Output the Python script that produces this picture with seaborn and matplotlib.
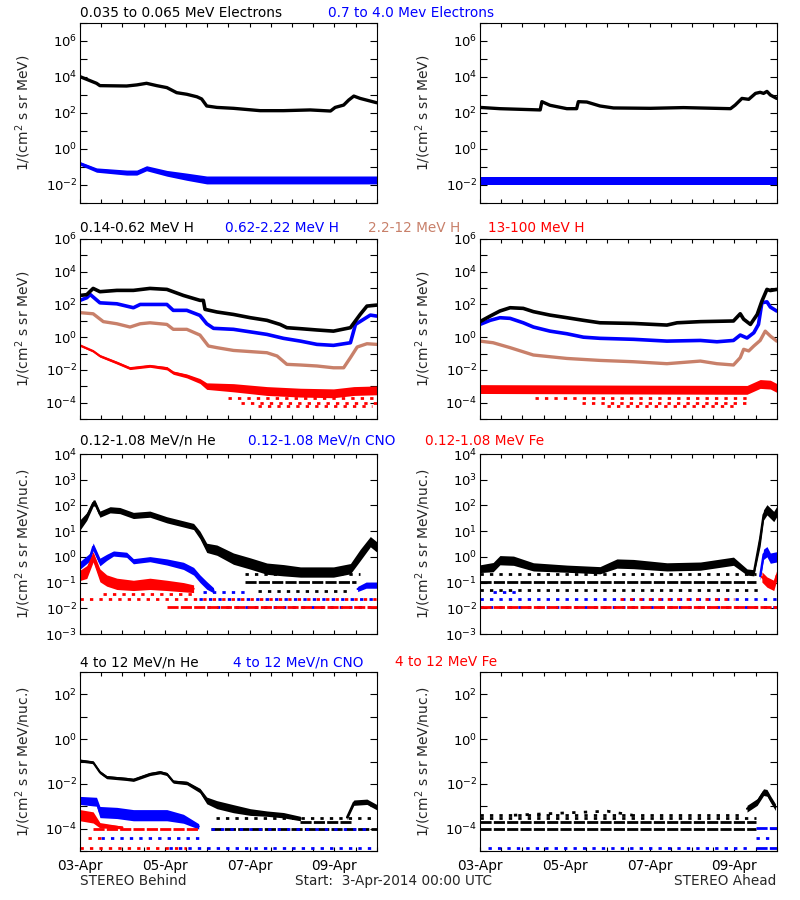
import numpy as np
import matplotlib
matplotlib.use("Agg")
import matplotlib.pyplot as plt
import seaborn as sns
from matplotlib.ticker import FixedLocator, LogFormatterSciNotation, NullFormatter

# ---------------------------------------------------------------- data
# time in days since 03-Apr-2014 00:00 UTC ; values are log10(flux)
XTICK_DAYS = [0, 2, 4, 6]
XTICK_LABELS = ["03-Apr", "05-Apr", "07-Apr", "09-Apr"]

# Row 1 : electrons
E_LO_B_T = [0, .39, .47, 1.10, 1.34, 1.57, 1.81, 2.05, 2.28, 2.52, 2.76, 2.87, 2.99, 3.23, 3.62,
            4.25, 4.80, 5.43, 5.91, 6.02, 6.22, 6.34, 6.46, 6.61, 7.0]
E_LO_B_L = [4.02, 3.65, 3.52, 3.50, 3.56, 3.65, 3.52, 3.41, 3.13, 3.04, 2.90, 2.78, 2.39, 2.31, 2.26,
            2.13, 2.13, 2.17, 2.11, 2.31, 2.44, 2.72, 2.94, 2.81, 2.57]
E_HI_B_T = [0, .39, 1.10, 1.34, 1.57, 2.05, 2.52, 2.99, 3.62, 7.0]
E_HI_B_L = [-0.80, -1.17, -1.31, -1.31, -1.07, -1.35, -1.54, -1.72, -1.72, -1.72]
E_HI_B_S = [0.10, 0.12, 0.14, 0.14, 0.14, 0.16, 0.2, 0.22, 0.22, 0.22]

E_LO_A_T = [0, .47, 1.42, 1.46, 1.65, 2.05, 2.28, 2.32, 2.52, 2.83, 3.15, 4.02, 4.80, 5.91, 6.02,
            6.18, 6.34, 6.50, 6.61, 6.69, 6.77, 6.85, 7.0]
E_LO_A_L = [2.31, 2.24, 2.17, 2.63, 2.43, 2.24, 2.24, 2.63, 2.61, 2.39, 2.28, 2.26, 2.30, 2.24, 2.44,
            2.81, 2.76, 3.09, 3.15, 3.09, 3.20, 3.00, 2.81]
E_HI_A_T = [0, 7.0]
E_HI_A_L = [-1.78, -1.78]
E_HI_A_S = [0.22, 0.22]

# Row 2 : protons (Behind)
H1_B_T = [0, .16, .31, .47, .87, 1.26, 1.65, 2.05, 2.44, 2.83, 2.91, 2.95, 3.23, 3.62, 4.02, 4.41,
          4.72, 4.88, 5.20, 5.59, 5.98, 6.38, 6.61, 6.77, 7.0]
H1_B_L = [2.55, 2.60, 2.98, 2.78, 2.86, 2.86, 2.98, 2.92, 2.55, 2.25, 2.25, 1.70, 1.54, 1.39, 1.19, 1.03,
          0.78, 0.58, 0.52, 0.44, 0.37, 0.58, 1.39, 1.90, 1.96]
H2_B_T = [0, .16, .24, .47, .87, 1.26, 1.42, 2.05, 2.20, 2.52, 2.83, 2.99, 3.15, 3.62, 4.41, 4.80,
          5.20, 5.59, 5.98, 6.38, 6.50, 6.69, 6.85, 7.0]
H2_B_L = [2.25, 2.41, 2.61, 2.10, 2.04, 1.80, 2.00, 2.00, 1.64, 1.64, 1.33, 0.82, 0.54, 0.48, 0.17, -0.07,
          -0.24, -0.44, -0.50, -0.34, 0.78, 1.09, 1.35, 1.29]
H3_B_T = [0, .31, .55, .87, 1.18, 1.42, 1.65, 2.05, 2.20, 2.52, 2.83, 3.03, 3.23, 3.62, 4.41, 4.65,
          4.88, 5.20, 5.59, 5.98, 6.22, 6.38, 6.54, 6.77, 7.0]
H3_B_L = [1.50, 1.43, 0.95, 0.82, 0.62, 0.82, 0.88, 0.78, 0.48, 0.48, 0.13, -0.54, -0.64, -0.81, -0.95,
          -1.15, -1.66, -1.70, -1.76, -1.87, -1.87, -1.25, -0.60, -0.40, -0.44]
H4_B_T = [0, .31, .47, .87, 1.18, 1.65, 2.05, 2.20, 2.52, 2.83, 2.99, 3.62, 4.41, 5.20, 5.98, 6.46, 7.0]
H4_B_L = [-0.50, -0.85, -1.15, -1.56, -1.90, -1.76, -1.90, -2.17, -2.37, -2.68, -2.99, -3.09, -3.29,
          -3.39, -3.43, -3.29, -3.25]
H4_B_S = [.06, .06, .07, .08, .08, .08, .10, .10, .12, .15, .20, .25, .27, .27, .27, .27, .27]

# Row 2 : protons (Ahead)
H1_A_T = [0, .24, .47, .71, 1.02, 1.26, 1.65, 2.05, 2.44, 2.83, 3.62, 4.41, 4.65, 5.20, 5.98, 6.14,
          6.22, 6.38, 6.54, 6.65, 6.77, 6.85, 7.0]
H1_A_L = [0.95, 1.29, 1.60, 1.80, 1.76, 1.56, 1.35, 1.19, 1.03, 0.88, 0.84, 0.74, 0.88, 0.95, 0.99, 1.43,
          1.10, 0.78, 1.39, 2.20, 2.92, 2.85, 2.92]
H2_A_T = [0, .24, .47, .71, 1.02, 1.26, 1.65, 2.05, 2.44, 2.83, 3.62, 4.41, 5.20, 5.59, 5.98, 6.14,
          6.30, 6.46, 6.57, 6.65, 6.77, 6.85, 7.0]
H2_A_L = [0.78, 1.03, 1.19, 1.15, 0.88, 0.62, 0.37, 0.21, 0.00, -0.07, -0.13, -0.24, -0.20, -0.28, -0.20,
          0.13, -0.05, 0.27, 0.78, 2.10, 2.16, 1.84, 1.60]
H3_A_T = [0, .31, .71, 1.26, 2.05, 2.83, 3.62, 4.41, 5.20, 5.59, 5.98, 6.14, 6.22, 6.34, 6.46, 6.61,
          6.73, 6.85, 7.0]
H3_A_L = [-0.24, -0.34, -0.64, -1.09, -1.30, -1.42, -1.50, -1.62, -1.46, -1.62, -1.70, -1.25, -0.74,
          -0.84, -0.54, -0.20, 0.37, 0.07, -0.24]
H4_A_T = [0, 3.5, 6.30, 6.61, 6.85, 7.0]
H4_A_L = [-3.17, -3.20, -3.22, -2.86, -2.90, -3.10]
H4_A_S = [.27, .27, .27, .27, .27, .27]

# Row 3 : 0.12-1.08 MeV/n heavy ions
HE_B_T = [0, .16, .31, .35, .47, .71, .94, 1.26, 1.65, 2.05, 2.44, 2.68, 2.83, 2.99, 3.23, 3.62, 4.02,
          4.41, 4.80, 5.20, 5.98, 6.38, 6.61, 6.85, 7.0]
HE_B_L = [1.24, 1.57, 2.09, 2.10, 1.66, 1.83, 1.80, 1.61, 1.66, 1.44, 1.28, 1.18, 0.85, 0.35, 0.26, -0.07,
          -0.26, -0.46, -0.52, -0.59, -0.59, -0.46, 0.07, 0.59, 0.39]
HE_B_S = [.2, .15, .12, .12, .12, .12, .12, .12, .12, .12, .12, .12, .15, .18, .2, .22, .22, .22, .22,
          .2, .2, .2, .22, .2, .2]
CNO_B_T = [0, .24, .31, .47, .63, .79, 1.10, 1.26, 1.65, 2.05, 2.44, 2.68, 2.83, 2.99, 3.15]
CNO_B_L = [-0.33, 0.00, 0.39, -0.20, -0.02, 0.13, 0.08, -0.17, -0.09, -0.20, -0.35, -0.56, -0.85, -1.11, -1.30]
CNO_B_S = [.15, .15, .15, .15, .12, .1, .1, .1, .1, .12, .14, .15, .15, .15, .1]
CNO_B_END_T = [6.55, 6.75, 7.0]
CNO_B_END_L = [-1.25, -1.10, -1.10]
FE_B_T = [0, .16, .31, .47, .63, .87, 1.26, 1.65, 2.05, 2.44, 2.68]
FE_B_L = [-0.72, -0.59, 0.00, -0.72, -0.92, -1.05, -1.11, -1.05, -1.11, -1.18, -1.24]
FE_B_S = [.2, .25, .2, .25, .22, .22, .2, .22, .2, .18, .15]

HE_A_T = [0, .31, .47, .79, 1.26, 2.05, 2.83, 3.23, 3.62, 4.41, 5.20, 5.98, 6.30, 6.46, 6.61, 6.69, 6.77,
          6.93, 7.0]
HE_A_L = [-0.46, -0.40, -0.13, -0.15, -0.39, -0.46, -0.52, -0.26, -0.28, -0.39, -0.36, -0.17, -0.59,
          -0.62, 0.72, 1.63, 1.83, 1.57, 1.76]
HE_A_S = [.15, .18, .18, .18, .16, .14, .14, .18, .18, .16, .16, .16, .12, .12, .3, .2, .2, .2, .2]
CNO_A_T = [6.61, 6.69, 6.77, 6.85, 7.0]
CNO_A_L = [-0.75, 0.10, 0.20, -0.05, 0.00]
FE_A_T = [6.65, 6.77, 6.93, 7.0]
FE_A_L = [-0.78, -0.98, -1.11, -0.72]

# Row 4 : 4-12 MeV/n heavy ions
HE4_B_T = [0, .31, .47, .63, 1.10, 1.26, 1.65, 1.89, 2.05, 2.20, 2.52, 2.83, 2.99, 3.23, 3.62, 4.02,
           4.41, 4.80, 5.20]
HE4_B_L = [-0.96, -1.04, -1.48, -1.70, -1.78, -1.82, -1.56, -1.48, -1.56, -1.90, -1.96, -2.30, -2.74,
           -2.93, -3.11, -3.26, -3.33, -3.40, -3.55]
HE4_B_S = [.06, .06, .07, .07, .07, .07, .07, .07, .07, .07, .08, .1, .15, .18, .18, .15, .12, .12, .1]
HE4_B_END_T = [6.30, 6.46, 6.77, 7.0]
HE4_B_END_L = [-3.50, -2.84, -2.80, -3.04]
CNO4_B_T = [0, .39, .47, .87, 1.26, 2.05, 2.44, 2.8]
CNO4_B_L = [-2.74, -2.80, -3.26, -3.30, -3.40, -3.40, -3.56, -3.90]
CNO4_B_S = [.18, .2, .25, .25, .25, .25, .2, .12]
FE4_B_T = [0, .31, .47, 1.0]
FE4_B_L = [-3.40, -3.50, -3.85, -3.95]
FE4_B_S = [.25, .25, .12, .06]

HE4_A_T = [0.8, 2.0, 3.0, 3.6]
HE4_A_L = [-3.40, -3.30, -3.22, -3.40]
HE4_A_END_T = [6.30, 6.54, 6.69, 6.77, 6.85, 6.97]
HE4_A_END_L = [-3.11, -2.81, -2.37, -2.40, -2.67, -3.04]

# quantised count floors: (value, start day, end day, dense?)
FLOORS = {
    "H_B_red": [(2.0e-4, 3.5, 7.0, 0), (1.0e-4, 3.8, 7.0, 0), (6.3e-5, 4.2, 6.9, 0)],
    "H_A_red": [(2.0e-4, 1.3, 6.4, 0), (1.0e-4, 2.4, 6.3, 0), (6.3e-5, 3.0, 6.1, 0)],
    "M_B_black": [(0.22, 3.9, 6.6, 0), (0.11, 3.9, 6.5, 1), (0.049, 4.2, 6.4, 0)],
    "M_B_blue": [(0.043, 2.9, 3.9, 0), (0.023, 2.8, 7.0, 0), (0.011, 3.0, 7.0, 0)],
    "M_B_red": [(0.035, 0.55, 2.7, 0), (0.023, 0.0, 7.0, 0), (0.011, 2.05, 7.0, 1)],
    "M_A_black": [(0.21, 0.0, 6.5, 0), (0.11, 0.0, 6.5, 1), (0.052, 0.0, 6.6, 0)],
    "M_A_blue": [(0.043, 0.3, 0.9, 0), (0.023, 0.0, 7.0, 0), (0.011, 0.0, 7.0, 0)],
    "M_A_red": [(0.023, 3.3, 6.0, 0), (0.011, 0.0, 7.0, 1)],
    "L_B_black": [(1.0e-4, 3.1, 7.0, 1), (2.0e-4, 5.2, 6.4, 1), (3.0e-4, 3.2, 7.0, 0)],
    "L_B_blue": [(1.0e-4, 3.1, 6.8, 0), (1.3e-5, 2.1, 7.0, 0), (4.0e-5, 0.5, 2.8, 0)],
    "L_B_red": [(1.0e-4, 0.3, 2.8, 1), (1.3e-5, 0.0, 2.5, 0), (4.0e-5, 0.2, 0.5, 0)],
    "L_A_black": [(1.0e-4, 0.0, 6.5, 1), (2.0e-4, 0.0, 6.5, 1), (3.0e-4, 0.0, 6.5, 0), (4.0e-4, 0.0, 6.2, 0)],
    "L_A_blue": [(1.3e-5, 0.2, 6.4, 0), (1.3e-5, 6.5, 7.0, 1), (4.0e-5, 6.5, 6.9, 0), (1.1e-4, 6.5, 7.0, 1)],
}

TITLES = [
    [("0.035 to 0.065 MeV Electrons", 80, "k"), ("0.7 to 4.0 Mev Electrons", 328, "b")],
    [("0.14-0.62 MeV H", 80, "k"), ("0.62-2.22 MeV H", 225, "b"), ("2.2-12 MeV H", 368, "s"),
     ("13-100 MeV H", 488, "r")],
    [("0.12-1.08 MeV/n He", 80, "k"), ("0.12-1.08 MeV/n CNO", 248, "b"), ("0.12-1.08 MeV Fe", 425, "r")],
    [("4 to 12 MeV/n He", 80, "k"), ("4 to 12 MeV/n CNO", 233, "b"), ("4 to 12 MeV Fe", 395, "r")],
]
YLABELS = ["1/(cm$^2$ s sr MeV)", "1/(cm$^2$ s sr MeV)",
           "1/(cm$^2$ s sr MeV/nuc.)", "1/(cm$^2$ s sr MeV/nuc.)"]

# ---------------------------------------------------------------- style
COL = {"k": "#000000", "b": "#0000FF", "s": "#C8806A", "r": "#FF0000"}
sns.set_style("ticks")
plt.rcParams["font.family"] = ["DejaVu Sans"]
plt.rcParams["mathtext.default"] = "regular"
FS = 9.8

W, H = 800, 900
fig = plt.figure(figsize=(W / 100, H / 100), dpi=100)
fig.patch.set_facecolor("white")

ROWS = [(23, 203), (239, 419), (454, 634), (672, 851)]
COLS = [(80, 376.7), (480, 776.7)]
YLIMS = [(1e-3, 1e7), (1e-5, 1e6), (1e-3, 1e4), (1e-5, 1e3)]
YMAJ = [[1e-2, 1e0, 1e2, 1e4, 1e6], [1e-4, 1e-2, 1e0, 1e2, 1e4, 1e6],
        [1e-3, 1e-2, 1e-1, 1e0, 1e1, 1e2, 1e3, 1e4], [1e-4, 1e-2, 1e0, 1e2]]
YMIN = [[1e-3, 1e-1, 1e1, 1e3, 1e5, 1e7], [1e-5, 1e-3, 1e-1, 1e1, 1e3, 1e5], [],
        [1e-5, 1e-3, 1e-1, 1e1, 1e3]]

axes = {}
for r, (top, bot) in enumerate(ROWS):
    for c, (lft, rgt) in enumerate(COLS):
        ax = fig.add_axes([lft / W, 1 - bot / H, (rgt - lft) / W, (bot - top) / H])
        ax.set_yscale("log")
        ax.set_xlim(0, 7)
        ax.set_ylim(*YLIMS[r])
        ax.yaxis.set_major_locator(FixedLocator(YMAJ[r]))
        ax.yaxis.set_major_formatter(LogFormatterSciNotation())
        ax.yaxis.set_minor_locator(FixedLocator(YMIN[r]))
        ax.yaxis.set_minor_formatter(NullFormatter())
        ax.xaxis.set_major_locator(FixedLocator(XTICK_DAYS))
        ax.xaxis.set_minor_locator(FixedLocator(list(np.arange(0, 7.01, 0.5))))
        if r == 3:
            ax.set_xticklabels(XTICK_LABELS)
        else:
            ax.set_xticklabels([])
        ax.tick_params(axis="both", which="both", direction="in", top=True, right=True,
                       width=0.8, color="black", labelsize=9.5, labelcolor="black")
        ax.tick_params(axis="x", labelsize=FS)
        ax.tick_params(axis="y", which="both", length=5, pad=2)
        ax.tick_params(axis="x", which="both", length=3, pad=6)
        for sp in ax.spines.values():
            sp.set_linewidth(0.8)
            sp.set_color("black")
        ax.set_ylabel(YLABELS[r], fontsize=10)
        ax.yaxis.set_label_coords(-0.158, 0.5)
        ax.set_facecolor("white")
        axes[(r, c)] = ax


def line(ax, t, l, col, lw=2.2):
    sns.lineplot(x=np.asarray(t, float), y=10.0 ** np.asarray(l, float), ax=ax, color=COL[col],
                 linewidth=lw, estimator=None, sort=False, legend=False)


def band(ax, t, l, s, col, lw=1.6):
    t = np.asarray(t, float)
    l = np.asarray(l, float)
    s = np.asarray(s, float)
    ax.fill_between(t, 10 ** (l - s), 10 ** (l + s), color=COL[col], lw=0)
    line(ax, t, l, col, lw)


def floors(ax, key, col):
    for val, t0, t1, dense in FLOORS[key]:
        ls = (0, (4, 0.8)) if dense else (0, (1.2, 2.2))
        ax.hlines(val, t0, t1, colors=COL[col], linestyles=[ls], lw=2.0)


# Row 1
a = axes[(0, 0)]
line(a, E_LO_B_T, E_LO_B_L, "k", 2.4)
band(a, E_HI_B_T, E_HI_B_L, E_HI_B_S, "b")
a = axes[(0, 1)]
line(a, E_LO_A_T, E_LO_A_L, "k", 2.4)
band(a, E_HI_A_T, E_HI_A_L, E_HI_A_S, "b")

# Row 2
a = axes[(1, 0)]
floors(a, "H_B_red", "r")
band(a, H4_B_T, H4_B_L, H4_B_S, "r")
line(a, H3_B_T, H3_B_L, "s", 2.4)
line(a, H2_B_T, H2_B_L, "b", 2.6)
line(a, H1_B_T, H1_B_L, "k", 2.6)
a = axes[(1, 1)]
floors(a, "H_A_red", "r")
band(a, H4_A_T, H4_A_L, H4_A_S, "r")
line(a, H3_A_T, H3_A_L, "s", 2.4)
line(a, H2_A_T, H2_A_L, "b", 2.6)
line(a, H1_A_T, H1_A_L, "k", 2.6)

# Row 3
a = axes[(2, 0)]
floors(a, "M_B_black", "k")
floors(a, "M_B_blue", "b")
floors(a, "M_B_red", "r")
band(a, HE_B_T, HE_B_L, HE_B_S, "k")
band(a, CNO_B_T, CNO_B_L, CNO_B_S, "b")
band(a, CNO_B_END_T, CNO_B_END_L, [0.1, 0.12, 0.12], "b")
band(a, FE_B_T, FE_B_L, FE_B_S, "r")
a = axes[(2, 1)]
floors(a, "M_A_black", "k")
floors(a, "M_A_blue", "b")
floors(a, "M_A_red", "r")
band(a, HE_A_T, HE_A_L, HE_A_S, "k")
band(a, CNO_A_T, CNO_A_L, [0.15, 0.2, 0.2, 0.2, 0.2], "b")
band(a, FE_A_T, FE_A_L, [0.2, 0.2, 0.2, 0.2], "r")

# Row 4
a = axes[(3, 0)]
floors(a, "L_B_black", "k")
floors(a, "L_B_blue", "b")
floors(a, "L_B_red", "r")
band(a, HE4_B_T, HE4_B_L, HE4_B_S, "k")
band(a, HE4_B_END_T, HE4_B_END_L, [0.1, 0.12, 0.12, 0.12], "k")
band(a, CNO4_B_T, CNO4_B_L, CNO4_B_S, "b")
band(a, FE4_B_T, FE4_B_L, FE4_B_S, "r")
a = axes[(3, 1)]
floors(a, "L_A_black", "k")
floors(a, "L_A_blue", "b")
sns.lineplot(x=np.asarray(HE4_A_T), y=10.0 ** np.asarray(HE4_A_L), ax=a, color="black",
             linewidth=2.0, linestyle=(0, (1.2, 3)), estimator=None, sort=False, legend=False)
band(a, HE4_A_END_T, HE4_A_END_L, [0.15, 0.15, 0.15, 0.15, 0.15, 0.15], "k")

# titles
ROW_TITLE_Y = [13, 228, 441, 662]
for r, items in enumerate(TITLES):
    for txt, x, col in items:
        fig.text(x / W, 1 - ROW_TITLE_Y[r] / H, txt, color=COL[col], fontsize=FS,
                 ha="left", va="center")

fig.text(80 / W, 1 - 881 / H, "STEREO Behind", fontsize=FS, ha="left", va="center")
fig.text(295 / W, 1 - 881 / H, "Start:  3-Apr-2014 00:00 UTC", fontsize=FS, ha="left", va="center")
fig.text(776 / W, 1 - 881 / H, "STEREO Ahead", fontsize=FS, ha="right", va="center")

fig.savefig("out.png", dpi=100, facecolor="white")
